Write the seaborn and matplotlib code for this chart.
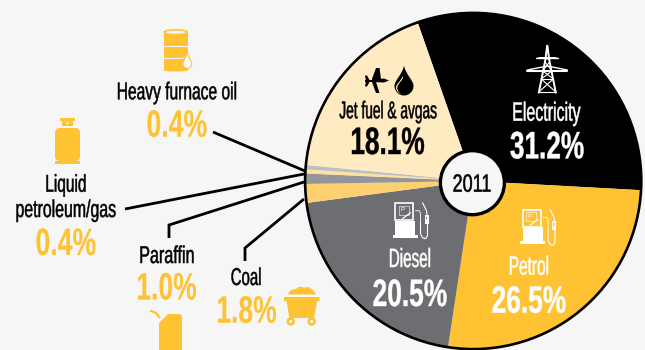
import seaborn as sns
import numpy as np
import matplotlib
matplotlib.use("Agg")
import matplotlib.pyplot as plt
from matplotlib.patches import Rectangle, Circle, Polygon, Ellipse, PathPatch, FancyBboxPatch
from matplotlib.path import Path
from matplotlib.text import Text
from matplotlib.textpath import TextPath
from matplotlib.transforms import Affine2D
from matplotlib.font_manager import FontProperties
from matplotlib.colors import to_rgba

categories = ["Electricity", "Petrol", "Diesel", "Coal", "Paraffin", "Liquid petroleum/gas", "Heavy furnace oil", "Jet fuel & avgas"]
shares = [31.2, 26.5, 20.5, 1.8, 1.0, 0.4, 0.4, 18.1]
slice_colors = ["#000000", "#FFC233", "#6D6E71", "#FFD070", "#939598", "#FFE0A0", "#BCBEC0", "#FFEBC2"]
share_labels = ["31.2%", "26.5%", "20.5%", "1.8%", "1.0%", "0.4%", "0.4%", "18.1%"]
year = "2011"

BG = "#F6F6F6"; YEL = "#FFC233"
sns.set_theme(style="white", rc={"figure.facecolor": BG, "axes.facecolor": BG})
plt.rcParams["font.family"] = ["Liberation Sans", "DejaVu Sans"]

class TallText(Text):
    """Real text whose nominal size gives the right width; it is drawn stretched upward
    to the height of a condensed typeface. x is the centre, y the baseline."""
    def __init__(self, x, y, s, stretch, halo, **kw):
        super().__init__(x, y, s, ha="center", va="baseline", **kw)
        self.stretch = stretch
        self.halo = halo
    def _geom(self):
        k = self.get_figure().dpi / 72
        tp = TextPath((0, 0), self.get_text(), size=self.get_fontsize(), prop=self.get_fontproperties())
        e = tp.get_extents()
        px, py = self.get_transform().transform(self.get_position())
        tr = Affine2D().translate(-(e.x0 + e.x1) / 2, 0).scale(k, k * self.stretch).translate(px, py)
        return tp, tr
    def draw(self, renderer):
        if not self.get_visible():
            return
        tp, tr = self._geom()
        gc = renderer.new_gc()
        rgba = to_rgba(self.get_color())
        gc.set_foreground(rgba)
        gc.set_linewidth(self.halo)
        gc.set_antialiased(True)
        renderer.draw_path(gc, tp, tr, rgbFace=rgba)
        gc.restore()
    def get_window_extent(self, renderer=None, dpi=None):
        tp, tr = self._geom()
        return tp.get_extents(tr)

fig = plt.figure(figsize=(6.45, 3.5), dpi=100)
cx, cy, R = 473.2, 181, 168.6
pad = 1.02
pie_ax = fig.add_axes([(cx-R*pad)/645, (350-cy-R*pad)/350, 2*R*pad/645, 2*R*pad/350])
pie_ax.pie(shares, colors=slice_colors, startangle=90+19.3, counterclock=False, radius=1,
           wedgeprops=dict(linewidth=0))
pie_ax.add_patch(Circle((0, 0), 0.997, fill=False, ec="black", lw=1.9))
pie_ax.set_xlim(-pad, pad); pie_ax.set_ylim(-pad, pad); pie_ax.set_aspect("auto")
pie_ax.axis("off")

tx = fig.add_axes([0, 0, 1, 1]); tx.set_xlim(0, 645); tx.set_ylim(350, 0); tx.axis("off")
tx.patch.set_alpha(0); tx.set_zorder(3)

def T(x, y, s, width, size, color="black", weight="normal", halo=0.35):
    fp = FontProperties(family="Liberation Sans", weight=weight)
    natural = TextPath((0, 0), s, size=size, prop=fp).get_extents().width * fig.dpi / 72
    scale = width / natural
    t = TallText(x, y, s, 1 / scale, halo, fontsize=size * scale, color=color,
                 fontweight=weight, fontfamily="Liberation Sans", transform=tx.transData)
    tx.add_artist(t)

LB, NUM = 17.5, 27.5
T(177, 99.3, categories[6], 118, LB)
T(177, 136.7, share_labels[6], 59, NUM, YEL, "bold", 0.1)
T(66, 191.7, "Liquid", 39, LB)
T(66, 217, "petroleum/gas", 99, LB)
T(66, 255, share_labels[5], 59, NUM, YEL, "bold", 0.1)
T(167, 263, categories[4], 53, LB)
T(167, 299.5, share_labels[4], 58, NUM, YEL, "bold", 0.1)
T(246, 285, categories[3], 29, LB)
T(247, 322.7, share_labels[3], 58, NUM, YEL, "bold", 0.1)
T(388, 118.3, categories[7], 97, LB)
T(388, 154, share_labels[7], 72, NUM, "black", "bold", 0.3)
T(547, 120.7, categories[0], 67, 19, "white")
T(547, 158.3, share_labels[0], 73, NUM, "white", "bold", 0.3)
T(529, 274.7, categories[1], 38, 19, "white")
T(529, 312.7, share_labels[1], 73, NUM, "white", "bold", 0.3)
T(410, 267, categories[2], 40, 19, "white")
T(410, 306, share_labels[2], 73, NUM, "white", "bold", 0.3)

# hub
tx.add_patch(Circle((472.4, 182.7), 32, fc=BG, ec="black", lw=2.4, zorder=2))
T(472, 191.7, year, 37, 18)

# leader lines
for xs, ys in [([213, 305], [132, 171]), ([125, 304], [209, 174]),
               ([169, 169, 304], [238, 225, 182]), ([245, 245, 304], [261, 248, 199])]:
    tx.plot(xs, ys, color="black", lw=2, solid_capstyle="butt", solid_joinstyle="miter", zorder=1)

def A(p):
    tx.add_patch(p)

def drop(x, top, bottom, hw, fc, ec="none", lw=0, z=3):
    r = hw
    c = bottom - r
    k = 0.55 * r
    v = [(x, top), (x + r*0.2, top + (c-top)*0.45), (x + r, c - r*0.6), (x + r, c),
         (x + r, c + k), (x + k, bottom), (x, bottom),
         (x - k, bottom), (x - r, c + k), (x - r, c),
         (x - r, c - r*0.6), (x - r*0.2, top + (c-top)*0.45), (x, top), (x, top)]
    codes = [Path.MOVETO] + [Path.CURVE4]*12 + [Path.CLOSEPOLY]
    A(PathPatch(Path(v, codes), fc=fc, ec=ec, lw=lw, zorder=z))

# oil barrel
A(Rectangle((164, 31), 24, 39, fc=YEL, lw=0))
A(Ellipse((175.7, 32), 25, 6, fc=YEL, lw=0))
A(Ellipse((175.7, 70), 25, 3, fc=YEL, lw=0))
A(Ellipse((175.7, 32.2), 20, 3, fc=BG, lw=0))
for y in (46, 58):
    tx.plot([163.5, 188.5], [y, y], color=BG, lw=0.8)
drop(187.3, 52, 68.5, 4.5, BG, YEL, 0.7)

# gas cylinder
A(Rectangle((60, 118), 15, 3, fc=YEL, lw=0))
A(Rectangle((62, 121), 11, 5, fc=YEL, lw=0))
A(Circle((67.5, 123), 1.2, fc=BG, lw=0))
A(FancyBboxPatch((58, 131), 19, 27, boxstyle="round,pad=3,rounding_size=5", fc=YEL, lw=0))
A(Rectangle((55, 161), 25, 2.6, fc=YEL, lw=0))

# jerrycan
A(Polygon([(159, 323), (168, 314), (180, 314), (182, 316), (182, 350), (159, 350)], fc=YEL, lw=0))
tx.plot([150, 156, 160], [310.5, 313, 318], color=YEL, lw=1.6, solid_capstyle="butt")

# coal cart
A(Polygon([(284, 297), (319.5, 297), (319.5, 301), (317, 301), (314, 318), (289.5, 318), (286.5, 301), (284, 301)], fc=YEL, lw=0))
A(Polygon([(287.5, 294.5), (291, 290), (296, 289), (299, 286.7), (304, 287.5), (309, 287), (313, 290), (316, 294.5)], fc=YEL, lw=0))
for x in (290.7, 311.7):
    A(Circle((x, 321.5), 4.2, fc=YEL, lw=0))
    A(Circle((x, 321.5), 1.6, fc=BG, lw=0))

# fuel pumps
def pump(x0, y0):
    W = "white"
    A(Rectangle((x0 + 3.5, y0 + 1.5), 18, 17, fc="none", ec=W, lw=1.2))
    A(Rectangle((x0 + 7, y0 + 4), 10, 9, fc="none", ec=W, lw=0.4))
    tx.text(x0 + 11, y0 + 8, "P", color=W, fontsize=4.5, ha="center", va="center")
    tx.plot([x0 + 11, x0 + 19], [y0 + 17, y0 + 11], color=W, lw=0.9)
    A(Rectangle((x0 + 3.5, y0 + 19), 20, 14, fc=W, lw=0))
    A(Rectangle((x0 + 1, y0 + 33), 25, 3, fc=W, lw=0))
    tx.plot([x0 + 24, x0 + 28, x0 + 29, x0 + 29], [y0 + 9, y0 + 9, y0 + 12, y0 + 21], color=W, lw=0.6)
    tx.plot([x0 + 29, x0 + 29, x0 + 31, x0 + 34, x0 + 36, x0 + 36, x0 + 35, x0 + 31],
            [y0 + 21, y0 + 32, y0 + 36, y0 + 37, y0 + 34, y0 + 16, y0 + 9, y0 + 1], color=W, lw=0.8)
    A(Polygon([(x0 + 33, y0 + 13), (x0 + 37, y0 + 13), (x0 + 37, y0 + 22), (x0 + 33, y0 + 22)], fc=W, lw=0))
    A(Rectangle((x0 + 34, y0 + 15), 1.6, 2.5, fc="#6D6E71" if x0 < 450 else YEL, lw=0))

pump(391.5, 201.7)
pump(519, 208.3)

# pylon
W = "white"; px, pt, pb = 547.3, 45, 92.7
tx.plot([px - 8.5, px - 2, px, px + 2, px + 8.5], [pb, 60, pt, 60, pb], color=W, lw=1.4, solid_joinstyle="miter")
A(Polygon([(px - 11, 57), (px + 11, 57), (px + 2, 59.5), (px - 2, 59.5)], fc=W, lw=0))
tx.plot([px - 11, px + 11], [57.5, 57.5], color=W, lw=1)
tx.plot([px - 20, px, px + 20], [70, 66, 70], color=W, lw=1)
tx.plot([px - 20, px + 20], [71, 71], color=W, lw=1.5)
for ya, yb, wa, wb in [(62, 71, 2.2, 4.5), (71, 79, 4.5, 6), (79, 92, 6, 8.5)]:
    tx.plot([px - wa, px + wb], [ya, yb], color=W, lw=0.8)
    tx.plot([px + wa, px - wb], [ya, yb], color=W, lw=0.8)
    tx.plot([px - wb, px + wb], [yb, yb], color=W, lw=0.8)

# aeroplane and drop
A(Polygon([(365, 80), (372, 80), (384, 78.5), (389, 80.5), (384, 82.5), (372, 82), (365, 82)], fc="black", lw=0))
A(Polygon([(376, 68), (379.5, 68), (381, 79), (376, 82), (379.5, 93), (376, 93), (372, 82), (372, 79)], fc="black", lw=0))
A(Polygon([(365, 75.5), (367, 75.5), (369.5, 80), (369.5, 82), (367, 86.5), (365, 86.5), (366, 81)], fc="black", lw=0))
drop(404, 65.7, 95.5, 9.5, "black")
drop(402.5, 76, 94, 6.5, "#FFEBC2", z=4)
drop(404.3, 75, 94.8, 7, "black", z=5)

fig.savefig("out.png", dpi=100, facecolor=BG)
